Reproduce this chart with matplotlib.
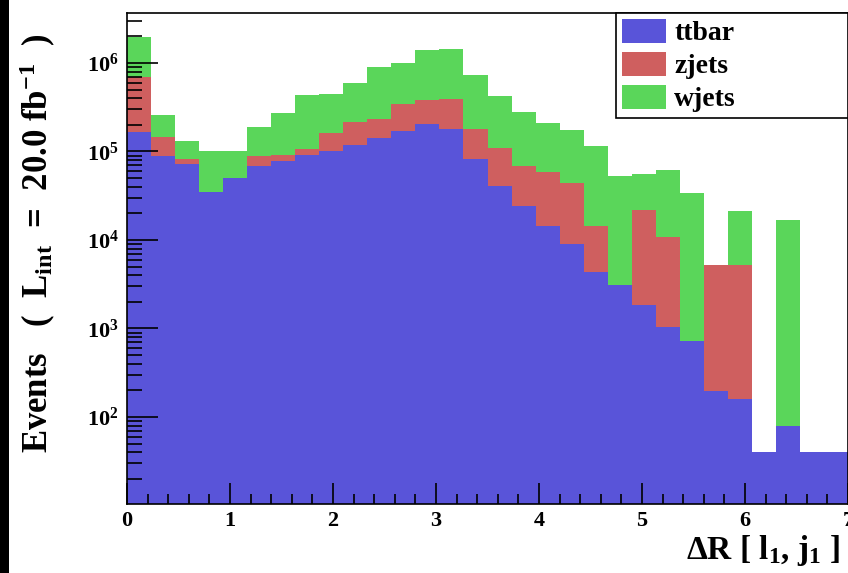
import numpy as np
import matplotlib
matplotlib.use("Agg")
import matplotlib.pyplot as plt
from matplotlib.patches import Patch, Rectangle

# === Donnees ===
# 30 bins de 0 a 7
bin_edges = np.linspace(0, 7, 31)

# sommets cumules
top_wjets = [1.95e6, 2.6e5, 1.3e5, 1.0e5, 1.0e5, 1.9e5, 2.75e5, 4.35e5, 4.47e5, 6.0e5,
             9.1e5, 1.0e6, 1.40e6, 1.45e6, 7.3e5, 4.24e5, 2.8e5, 2.08e5, 1.76e5, 1.15e5,
             5.3e4, 5.5e4, 6.1e4, 3.4e4, 5.2e3, 2.1e4, 40, 1.68e4, 40, 40]
top_zjets = [7.0e5, 1.45e5, 8.2e4, 3.5e4, 5.0e4, 9.0e4, 9.2e4, 1.07e5, 1.62e5, 2.17e5,
             2.3e5, 3.4e5, 3.85e5, 3.92e5, 1.81e5, 1.1e5, 6.9e4, 5.9e4, 4.4e4, 1.44e4,
             3.1e3, 2.2e4, 1.09e4, 720, 5.2e3, 5.2e3, 40, 80, 40, 40]
ttbar = [1.66e5, 8.9e4, 7.3e4, 3.5e4, 5.0e4, 6.9e4, 7.8e4, 9.1e4, 1.02e5, 1.19e5,
         1.43e5, 1.72e5, 2.06e5, 1.80e5, 8.2e4, 4.1e4, 2.4e4, 1.44e4, 8.9e3, 4.4e3,
         3.1e3, 1.83e3, 1.04e3, 720, 198, 158, 40, 80, 40, 40]

ttbar = np.array(ttbar)
zjets = np.array(top_zjets) - ttbar
wjets = np.array(top_wjets) - np.array(top_zjets)

labels = ["ttbar", "zjets", "wjets"]
colors = ["#5954d9", "#cf5f5f", "#5ad65a"]

# === Style ROOT-like ===
plt.rcParams["font.family"] = "Liberation Serif"
plt.rcParams["font.weight"] = "bold"
plt.rcParams["mathtext.fontset"] = "custom"
plt.rcParams["mathtext.rm"] = "Liberation Serif:bold"
plt.rcParams["mathtext.it"] = "Liberation Serif:bold"
plt.rcParams["mathtext.bf"] = "Liberation Serif:bold"

fig = plt.figure(figsize=(8.48, 5.73), dpi=100)
ax = fig.add_axes([127 / 848, 69 / 573, 721 / 848, 491 / 573])

widths = np.diff(bin_edges)
left = bin_edges[:-1]
bottom = np.zeros_like(ttbar)
for vals, col, lab in zip([ttbar, zjets, wjets], colors, labels):
    ax.bar(left, vals, width=widths, bottom=bottom, align="edge",
           color=col, linewidth=0, label=lab)
    bottom = bottom + vals

ax.set_yscale("log")
ax.set_xlim(0, 7)
ax.set_ylim(10.4, 3.67e6)

ax.xaxis.set_major_locator(matplotlib.ticker.MultipleLocator(1))
ax.xaxis.set_minor_locator(matplotlib.ticker.MultipleLocator(0.2))
ax.yaxis.set_minor_locator(matplotlib.ticker.LogLocator(base=10, subs=np.arange(2, 10)))
ax.yaxis.set_minor_formatter(matplotlib.ticker.NullFormatter())

ax.tick_params(axis="both", which="both", direction="in", top=False, right=False,
               width=1.2, labelsize=16)
ax.tick_params(axis="y", which="major", length=22, pad=6)
ax.tick_params(axis="y", which="minor", length=11)
ax.tick_params(axis="x", which="major", length=15, pad=5)
ax.tick_params(axis="x", which="minor", length=7.5)
for s in ax.spines.values():
    s.set_linewidth(1.2)

# === Legende ===
handles = [Patch(facecolor=c, edgecolor="none") for c in colors]
leg = ax.legend(handles, labels, loc="upper left",
                bbox_to_anchor=(489 / 721, 0, 232 / 721, 1), mode="expand",
                borderaxespad=0, fancybox=False, framealpha=1, edgecolor="black",
                fontsize=20, handlelength=1.6, handleheight=0.95,
                labelspacing=0.2, handletextpad=0.3, borderpad=0.2)
leg.get_frame().set_linewidth(1.2)

# === Titres ===
fig.text(38 / 848, 1 - 243 / 573,
         r"Events   (  L$_{int}$  =  20.0 fb$^{-1}$  )",
         rotation=90, ha="center", va="center", fontsize=25, fontweight="bold")
fig.text(840 / 848, 1 - 550 / 573, r"$\Delta$R [ l$_{1}$, j$_{1}$ ]",
         ha="right", va="center", fontsize=24, fontweight="bold")

# bande noire a gauche
fig.patches.append(Rectangle((0, 0), 9 / 848, 1, transform=fig.transFigure,
                             facecolor="black", edgecolor="none"))

fig.savefig("out.png", dpi=100)
